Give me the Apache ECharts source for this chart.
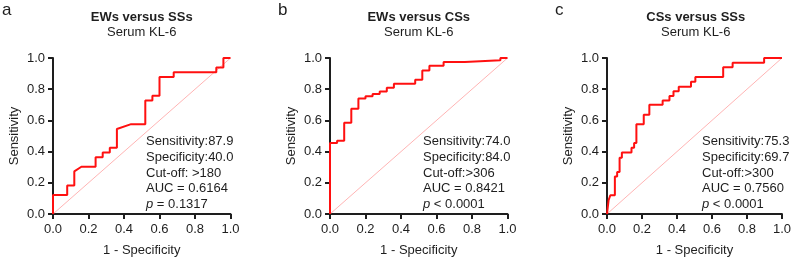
<!DOCTYPE html>
<html>
<head>
<meta charset="utf-8">
<script src="https://cdn.jsdelivr.net/npm/echarts@6/dist/echarts.min.js"></script>
<style>
html, body { margin: 0; padding: 0; background: #fff; }
#chart { width: 794px; height: 262px; }
</style>
</head>
<body>
<div id="chart"></div>
<script>
// ROC curves, serum KL-6 (vertices)
var fprA = [0, 0, 0.08, 0.08, 0.12, 0.12, 0.16, 0.24, 0.24, 0.28, 0.28, 0.32, 0.32, 0.36, 0.36, 0.44, 0.52, 0.52, 0.56, 0.56, 0.60, 0.60, 0.68, 0.68, 0.92, 0.92, 0.96, 0.96, 1.0];
var tprA = [0, 0.121, 0.121, 0.182, 0.182, 0.273, 0.303, 0.303, 0.364, 0.364, 0.394, 0.394, 0.424, 0.424, 0.545, 0.576, 0.576, 0.727, 0.727, 0.758, 0.758, 0.879, 0.879, 0.909, 0.909, 0.939, 0.939, 1.0, 1.0];

var fprB = [0, 0, 0.04, 0.04, 0.08, 0.08, 0.12, 0.12, 0.16, 0.16, 0.20, 0.20, 0.24, 0.24, 0.28, 0.28, 0.32, 0.32, 0.36, 0.36, 0.48, 0.48, 0.52, 0.52, 0.56, 0.56, 0.64, 0.64, 0.76, 0.76, 0.96, 0.96, 1.0];
var tprB = [0, 0.455, 0.455, 0.47, 0.47, 0.585, 0.585, 0.675, 0.675, 0.74, 0.74, 0.755, 0.755, 0.77, 0.77, 0.785, 0.785, 0.81, 0.81, 0.835, 0.835, 0.86, 0.86, 0.92, 0.92, 0.95, 0.95, 0.975, 0.975, 0.985, 0.985, 1.0, 1.0];

var fprC = [0, 0.009, 0.019, 0.019, 0.045, 0.045, 0.058, 0.058, 0.072, 0.072, 0.085, 0.085, 0.14, 0.14, 0.155, 0.155, 0.168, 0.168, 0.21, 0.21, 0.242, 0.242, 0.318, 0.318, 0.357, 0.357, 0.38, 0.38, 0.41, 0.41, 0.48, 0.48, 0.505, 0.505, 0.664, 0.664, 0.718, 0.718, 0.898, 0.898, 1.0];
var tprC = [0, 0.088, 0.088, 0.12, 0.12, 0.24, 0.24, 0.27, 0.27, 0.36, 0.36, 0.395, 0.395, 0.425, 0.425, 0.455, 0.455, 0.575, 0.575, 0.637, 0.637, 0.70, 0.70, 0.727, 0.727, 0.757, 0.757, 0.787, 0.787, 0.815, 0.815, 0.847, 0.847, 0.879, 0.879, 0.94, 0.94, 0.97, 0.97, 1.0, 1.0];

var refLine = [0, 1];
var tickLabels = ['0.0', '0.2', '0.4', '0.6', '0.8', '1.0'];

var panelLetters = ['a', 'b', 'c'];
var panelTitles = ['EWs versus SSs', 'EWs versus CSs', 'CSs versus SSs'];
var panelSubtitles = ['Serum KL-6', 'Serum KL-6', 'Serum KL-6'];
var sensText = ['87.9', '74.0', '75.3'];
var specText = ['40.0', '84.0', '69.7'];
var cutText = [' >180', '>306', '>300'];
var aucText = ['0.6164', '0.8421', '0.7560'];
var pText = ['= 0.1317', '< 0.0001', '< 0.0001'];

var FONT = 'Liberation Sans, Arial, sans-serif';
var INK = '#1e1e1e';
var gridLefts = [53, 330, 607];
var gridTop = 58, gridW = 177.5, gridH = 159.5;
var noteX = [146, 423, 702];
var letterX = [2, 278, 555];

var curves = [[fprA, tprA], [fprB, tprB], [fprC, tprC]];

function pairs(xs, ys) {
	return xs.map(function (x, i) { return [x, ys[i]]; });
}

var chart = echarts.init(document.getElementById('chart'), null, { renderer: 'canvas' });

var grids = [], xAxes = [], yAxes = [], series = [], graphics = [];

gridLefts.forEach(function (left, i) {
	grids.push({ left: left, top: gridTop, width: gridW, height: gridH });

	var axisCommon = {
		gridIndex: i,
		type: 'value',
		min: 0,
		max: 1,
		interval: 0.2,
		axisLine: { show: true, lineStyle: { color: INK, width: 2 } },
		axisTick: { show: true, length: 5, lineStyle: { color: INK, width: 2 } },
		axisLabel: {
			fontFamily: FONT, fontSize: 13, color: INK, margin: 8,
			formatter: function (v) { return tickLabels[Math.round(v * 5)]; }
		},
		splitLine: { show: false },
		nameLocation: 'middle',
		nameTextStyle: { fontFamily: FONT, fontSize: 13, color: INK }
	};
	xAxes.push(Object.assign({}, axisCommon, {
		name: '1 - Specificity', nameGap: 30,
		axisLabel: Object.assign({}, axisCommon.axisLabel, { margin: 9 })
	}));
	yAxes.push(Object.assign({}, axisCommon, { name: 'Sensitivity', nameGap: 32 }));

	series.push({
		type: 'line',
		xAxisIndex: i, yAxisIndex: i,
		data: pairs(refLine, refLine),
		showSymbol: false,
		lineStyle: { color: '#ffb4b4', width: 1 },
		z: 1
	});
	series.push({
		type: 'line',
		xAxisIndex: i, yAxisIndex: i,
		data: pairs(curves[i][0], curves[i][1]),
		showSymbol: false,
		lineStyle: { color: '#ff1010', width: 2 },
		z: 3
	});

	var cx = left + gridW / 2;
	graphics.push({
		type: 'text', x: letterX[i], y: 10,
		style: { text: panelLetters[i], fill: INK, fontFamily: FONT, fontSize: 17, align: 'left', verticalAlign: 'middle' }
	});
	graphics.push({
		type: 'text', x: cx, y: 17,
		style: { text: panelTitles[i], fill: INK, fontFamily: FONT, fontSize: 13, fontWeight: 'bold', align: 'center', verticalAlign: 'middle' }
	});
	graphics.push({
		type: 'text', x: cx, y: 32.5,
		style: { text: panelSubtitles[i], fill: INK, fontFamily: FONT, fontSize: 13, align: 'center', verticalAlign: 'middle' }
	});

	var lines = [
		'Sensitivity:' + sensText[i],
		'Specificity:' + specText[i],
		'Cut-off:' + cutText[i],
		'AUC = ' + aucText[i],
		'{i|p} ' + pText[i]
	];
	lines.forEach(function (t, k) {
		graphics.push({
			type: 'text', x: noteX[i], y: 141.8 + k * 15.7,
			style: {
				text: t, fill: INK, fontFamily: FONT, fontSize: 13,
				align: 'left', verticalAlign: 'middle',
				rich: { i: { fontStyle: 'italic', fontFamily: FONT, fontSize: 13, fill: INK } }
			}
		});
	});
});

var option = {
	animation: false,
	backgroundColor: '#fff',
	grid: grids,
	xAxis: xAxes,
	yAxis: yAxes,
	series: series,
	graphic: graphics
};

chart.setOption(option);
</script>
</body>
</html>
